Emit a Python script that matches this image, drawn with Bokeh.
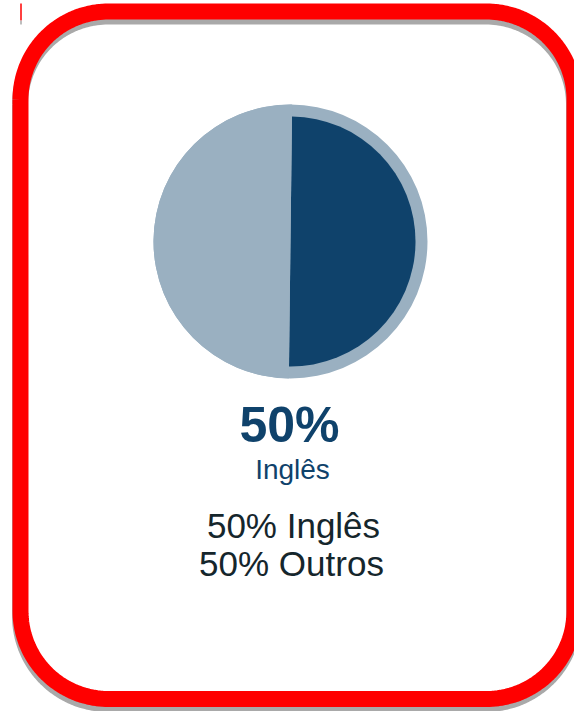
import numpy as np
from bokeh.plotting import figure
from bokeh.models import Range1d
from bokeh.core.properties import value
from bokeh.embed import file_html
from bokeh.resources import INLINE

# ---- data ----
labels = ["Inglês", "Outros"]
values = [50, 50]
colors = ["#0f426b", "#9ab0c1"]
headline_label = labels[0]

# ---- canvas: data coords == page pixels (y flipped) ----
PAGE_H = 711
W, H = 574, 711
X0, Y0 = 0, 0


def py(y):
    return PAGE_H - np.asarray(y, dtype=float)


p = figure(width=W, height=H, output_backend="svg", toolbar_location=None,
           x_range=Range1d(X0, X0 + W), y_range=Range1d(PAGE_H - (Y0 + H), PAGE_H - Y0),
           x_axis_location=None, y_axis_location=None, min_border=0,
           outline_line_color=None, background_fill_color="white",
           border_fill_color="white")
p.grid.visible = False


def rounded_rect(x0, y0, x1, y1, r, n=48):
    xs, ys = [], []
    corners = [((x0 + r, y0 + r), np.pi, 1.5 * np.pi),
               ((x1 - r, y0 + r), 1.5 * np.pi, 2 * np.pi),
               ((x1 - r, y1 - r), 0.0, 0.5 * np.pi),
               ((x0 + r, y1 - r), 0.5 * np.pi, np.pi)]
    for (cx, cy), a0, a1 in corners:
        t = np.linspace(a0, a1, n)
        xs.extend(cx + r * np.cos(t))
        ys.extend(cy + r * np.sin(t))
    xs.append(xs[0]); ys.append(ys[0])
    return np.array(xs), np.array(ys)


# shadow + red frame
sx, sy = rounded_rect(20, 11, 574, 698.5, 88)
p.line(sx - 0.5, py(sy + 5), line_color="#a9a9a9", line_width=16, line_join="round")
p.line(sx, py(sy), line_color="#ff0000", line_width=16, line_join="round")
# small tick artifact at top-left
p.line([20.5, 20.5], py([3, 20]), line_color="#ff0000", line_width=1.5)
p.line([20.5, 20.5], py([20, 24]), line_color="#a9a9a9", line_width=1.5)

# ---- pie ----
cx, cy = 290, 241
total = float(sum(values))
start = np.pi / 2 - 0.012
starts, ends = [], []
for v in values:
    starts.append(start)
    start = start - v / total * 2 * np.pi
    ends.append(start)
radii = [125, 137]

p.circle(x=[cx], y=py([cy]), radius=137, fill_color=colors[1], line_color=None)
p.wedge(x=[cx] * len(values), y=list(py([cy] * len(values))), radius=radii,
        start_angle=starts, end_angle=ends, direction="clock",
        fill_color=colors, line_color=None)

# ---- texts ----
font = value("Liberation Sans")
p.text(x=[289], y=py([424]), text=[f"{values[0]}%"], text_font=font,
       text_font_size="50px", text_font_style="bold", text_color="#0f426b",
       text_align="center", text_baseline="alphabetic")
p.text(x=[292], y=py([469]), text=[headline_label], text_font=font,
       text_font_size="28px", text_color="#0f426b",
       text_align="center", text_baseline="alphabetic")
lines = [f"{v}% {l}" for v, l in zip(values, labels)]
p.text(x=[293, 291], y=py([525, 563]), text=lines, text_font=font,
       text_font_size="35px", text_color="#15262c",
       text_align="center", text_baseline="alphabetic")

open("out.html", "w").write(file_html(p, INLINE))
